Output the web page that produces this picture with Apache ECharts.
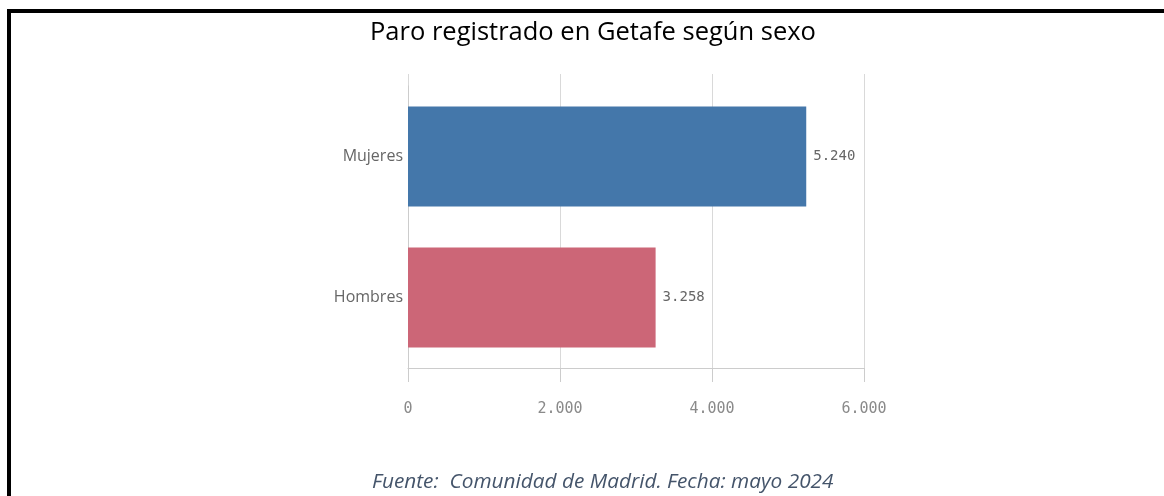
<!DOCTYPE html>
<html>
<head>
<meta charset="utf-8">
<script src="https://cdn.jsdelivr.net/npm/echarts@6/dist/echarts.min.js"></script>
<style>
	html, body { margin: 0; padding: 0; background: #fff; }
	#wrap { position: relative; width: 1164px; height: 496px; overflow: hidden; }
	#frame { position: absolute; left: 7px; top: 9px; width: 1200px; height: 600px; border-top: 4px solid #000; border-left: 4px solid #000; }
	#chart { position: absolute; left: 0; top: 0; width: 1164px; height: 496px; }
</style>
</head>
<body>
<div id="wrap">
	<div id="frame"></div>
	<div id="chart"></div>
</div>
<script>
// datos
const categorias = ['Hombres', 'Mujeres'];
const valores = [3258, 5240];
const colores = ['#cc6677', '#4477aa'];
const ticks = [0, 2000, 4000, 6000];

// numero con punto de miles
function fmt(v) {
	return String(v).replace(/\B(?=(\d{3})+(?!\d))/g, '.');
}

const chart = echarts.init(document.getElementById('chart'));

const option = {
	animation: false,
	title: [
		{
			text: 'Paro registrado en Getafe según sexo',
			left: 365,
			top: 15,
			textStyle: {fontFamily: 'Open Sans', fontSize: 25.5, fontWeight: 'normal', color: '#000'}
		},
		{
			text: 'Fuente:  Comunidad de Madrid. Fecha: mayo 2024',
			left: 367,
			top: 467,
			textStyle: {fontFamily: 'Open Sans', fontSize: 20.8, fontStyle: 'italic', fontWeight: 'normal', color: '#44546a'}
		}
	],
	grid: [
		{left: 408, right: 300, top: 86, bottom: 128},
		// solo para alargar las lineas de fondo hacia arriba
		{left: 408, right: 300, top: 74, bottom: 128}
	],
	xAxis: [
		{
			type: 'value',
			gridIndex: 0,
			min: ticks[0],
			max: ticks[ticks.length - 1],
			interval: 2000,
			axisLine: {show: true, lineStyle: {color: '#cccccc'}},
			axisTick: {show: true, length: 14, lineStyle: {color: '#cccccc'}},
			splitLine: {show: false},
			axisLabel: {
				margin: 34,
				color: '#8a8a8a',
				fontFamily: 'DejaVu Sans Mono',
				fontSize: 15,
				formatter: fmt
			}
		},
		{
			type: 'value',
			gridIndex: 1,
			min: ticks[0],
			max: ticks[ticks.length - 1],
			interval: 2000,
			axisLine: {show: false},
			axisTick: {show: false},
			axisLabel: {show: false},
			splitLine: {show: true, lineStyle: {color: '#d9d9d9'}}
		}
	],
	yAxis: [
		{
			type: 'category',
			gridIndex: 0,
			data: categorias,
			axisLine: {show: true, lineStyle: {color: '#cccccc'}},
			axisTick: {show: false},
			axisLabel: {
				margin: 5,
				color: '#666666',
				fontFamily: 'Open Sans',
				fontSize: 16
			}
		},
		{
			type: 'category',
			gridIndex: 1,
			show: false,
			data: categorias
		}
	],
	series: [
		{
			type: 'bar',
			xAxisIndex: 0,
			yAxisIndex: 0,
			z: 3,
			barWidth: 100,
			data: valores.map(function (v, i) {
				return {value: v, itemStyle: {color: colores[i]}};
			}),
			label: {
				show: true,
				position: 'right',
				distance: 7,
				color: '#666666',
				fontFamily: 'DejaVu Sans Mono',
				fontSize: 14,
				formatter: function (p) { return fmt(p.value); }
			}
		}
	]
};

chart.setOption(option);
</script>
</body>
</html>
